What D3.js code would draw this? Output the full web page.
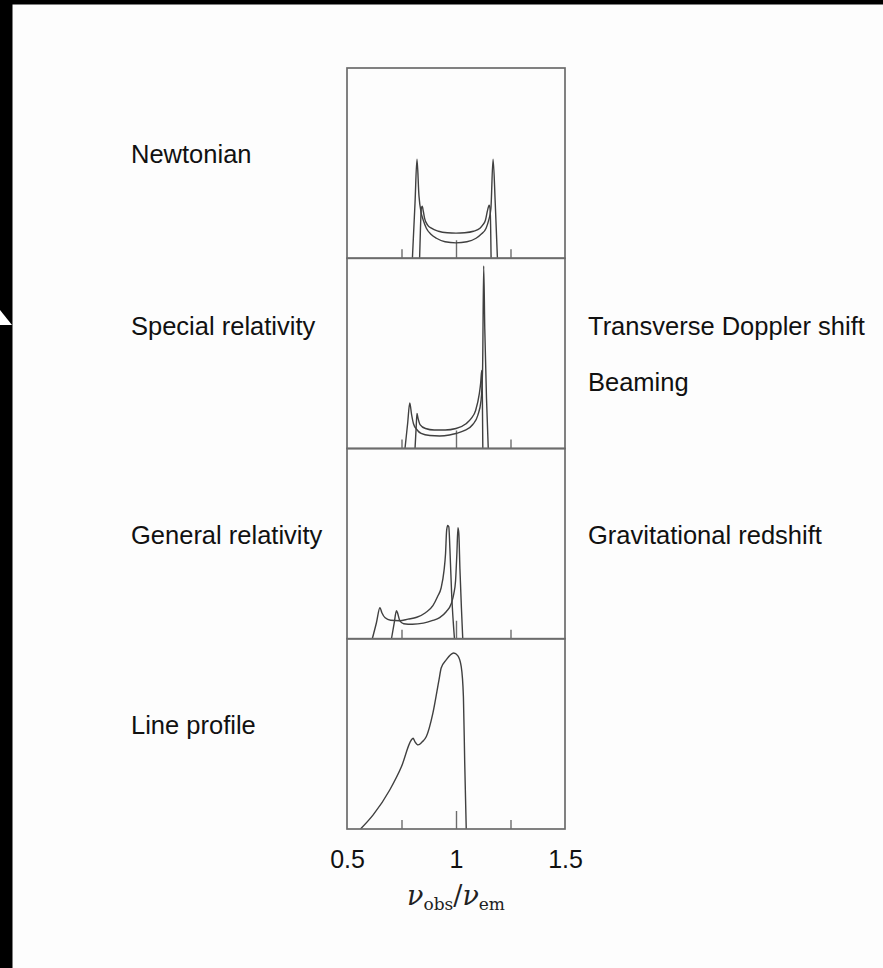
<!DOCTYPE html>
<html>
<head>
<meta charset="utf-8">
<script src="https://cdn.jsdelivr.net/npm/d3@7"></script>
<style>
  html, body { margin: 0; padding: 0; background: #fff; }
  svg { display: block; }
</style>
</head>
<body>
<script>
// Emission line profiles from two narrow annuli of an accretion disc,
// built up step by step: Newtonian, special relativity, general relativity,
// and finally the integrated line profile.

// Tick labels on the frequency axis
const xTickLabels = [0.5, 1, 1.5];
const majorTicks = [1];
const minorTicks = [0.75, 1.25];

// Panel titles (left) and effect names (right)
const panelTitles = ["Newtonian", "Special relativity", "General relativity", "Line profile"];
const panelNotes = [[], ["Transverse Doppler shift", "Beaming"], ["Gravitational redshift"], []];

// Newtonian: inner annulus (wide, sharp horns) and outer annulus (narrow)
const newtInnerNu   = [0.800,0.812,0.821,0.830,0.840,0.850,0.864,0.885,0.910,0.950,1.000,1.050,1.092,1.115,1.138,1.150,1.160,1.170,1.180,1.190];
const newtInnerFlux = [0,0.29,0.52,0.33,0.24,0.20,0.158,0.126,0.105,0.087,0.081,0.087,0.105,0.126,0.158,0.20,0.26,0.52,0.29,0];
const newtOuterNu   = [0.833,0.837,0.841,0.845,0.850,0.856,0.870,0.887,0.920,0.960,1.000,1.040,1.080,1.110,1.122,1.135,1.145,1.152,1.156,1.159,1.161];
const newtOuterFlux = [0,0.158,0.263,0.274,0.247,0.21,0.174,0.158,0.142,0.134,0.132,0.134,0.142,0.158,0.174,0.20,0.253,0.279,0.263,0.158,0];

// Special relativity
const srInnerNu   = [0.766,0.778,0.788,0.796,0.805,0.820,0.840,0.880,0.925,0.970,1.000,1.040,1.077,1.100,1.115,1.122,1.127,1.132,1.140,1.148];
const srInnerFlux = [0,0.13,0.24,0.18,0.13,0.10,0.079,0.068,0.066,0.071,0.079,0.095,0.126,0.174,0.253,0.42,0.96,0.63,0.26,0];
const srOuterNu   = [0.812,0.817,0.821,0.826,0.835,0.860,0.900,0.950,1.000,1.046,1.070,1.090,1.107,1.113,1.118,1.121,1.123];
const srOuterFlux = [0,0.105,0.184,0.158,0.126,0.105,0.097,0.097,0.105,0.13,0.158,0.20,0.288,0.342,0.41,0.263,0];

// General relativity
const grInnerNu   = [0.616,0.635,0.651,0.660,0.675,0.700,0.740,0.780,0.820,0.860,0.894,0.915,0.932,0.945,0.952,0.957,0.962,0.967,0.972,0.980,0.993];
const grInnerFlux = [0,0.084,0.163,0.137,0.11,0.097,0.095,0.103,0.113,0.137,0.174,0.221,0.268,0.358,0.447,0.568,0.595,0.589,0.474,0.237,0];
const grOuterNu   = [0.704,0.716,0.727,0.733,0.742,0.760,0.800,0.850,0.890,0.925,0.955,0.978,0.990,0.998,1.004,1.009,1.013,1.018,1.025,1.031];
const grOuterFlux = [0,0.079,0.147,0.132,0.095,0.079,0.076,0.082,0.095,0.111,0.142,0.184,0.237,0.305,0.447,0.584,0.553,0.368,0.158,0];

// Integrated line profile
const lineNu   = [0.562,0.620,0.696,0.750,0.795,0.803,0.812,0.826,0.845,0.864,0.894,0.922,0.932,0.955,0.989,1.008,1.024,1.034,1.040,1.047];
const lineFlux = [0,0.074,0.205,0.328,0.468,0.477,0.458,0.442,0.458,0.486,0.609,0.784,0.846,0.889,0.925,0.911,0.853,0.695,0.347,0];

const panelSeries = [
  [[newtInnerNu, newtInnerFlux], [newtOuterNu, newtOuterFlux]],
  [[srInnerNu, srInnerFlux], [srOuterNu, srOuterFlux]],
  [[grInnerNu, grInnerFlux], [grOuterNu, grOuterFlux]],
  [[lineNu, lineFlux]]
];

const W = 883, H = 968;
const frameLeft = 347, frameRight = 565, frameTop = 68, frameBottom = 829;
const nPanels = panelTitles.length;
const panelH = (frameBottom - frameTop) / nPanels;

const svg = d3.select("body").append("svg")
  .attr("width", W).attr("height", H)
  .attr("viewBox", `0 0 ${W} ${H}`);

svg.append("rect").attr("width", W).attr("height", H).attr("fill", "#fdfdfd");

// dark border strips along the top and left edges
svg.append("rect").attr("x", 0).attr("y", 0).attr("width", W).attr("height", 4.5).attr("fill", "#000");
svg.append("rect").attr("x", 0).attr("y", 0).attr("width", 12.5).attr("height", H).attr("fill", "#000");
svg.append("path").attr("d", "M0,310 L12,325 L0,325 Z").attr("fill", "#fff");

const x = d3.scaleLinear().domain([0.5, 1.5]).range([frameLeft, frameRight]);

const fontSans = "'Liberation Sans', Arial, Helvetica, sans-serif";
const lineColor = "#404040";
const frameColor = "#6c6c6c";

panelSeries.forEach((series, i) => {
  const top = frameTop + i * panelH;
  const bottom = top + panelH;
  const y = d3.scaleLinear().domain([0, 1]).range([bottom, top]);
  const g = svg.append("g").attr("class", "panel");

  // inward ticks on each panel's lower edge
  const major = d3.axisBottom(x).tickValues(majorTicks).tickSize(-18).tickFormat("");
  const minor = d3.axisBottom(x).tickValues(minorTicks).tickSize(-9).tickFormat("");
  [major, minor].forEach(ax => {
    const a = g.append("g").attr("transform", `translate(0,${bottom})`).call(ax);
    a.select(".domain").remove();
    a.selectAll(".tick line").attr("stroke", frameColor).attr("stroke-width", 1.4);
  });

  const line = d3.line()
    .x(d => x(d[0]))
    .y(d => y(d[1]))
    .curve(d3.curveMonotoneX);

  series.forEach(([nu, flux]) => {
    g.append("path")
      .datum(nu.map((v, k) => [v, flux[k]]))
      .attr("d", line)
      .attr("fill", "none")
      .attr("stroke", lineColor)
      .attr("stroke-width", 1.4)
      .attr("stroke-linejoin", "round");
  });

  // panel separator / frame
  g.append("rect")
    .attr("x", frameLeft).attr("y", top)
    .attr("width", frameRight - frameLeft).attr("height", panelH)
    .attr("fill", "none").attr("stroke", frameColor).attr("stroke-width", 1.7);

  const mid = (top + bottom) / 2;
  const notes = panelNotes[i];
  const noteGap = 56;
  const firstBase = notes.length > 1 ? mid - 18 : mid;

  svg.append("text")
    .attr("x", 131).attr("y", firstBase)
    .attr("font-family", fontSans).attr("font-size", 25.5).attr("fill", "#111")
    .text(panelTitles[i]);

  notes.forEach((t, k) => {
    svg.append("text")
      .attr("x", 588).attr("y", firstBase + k * noteGap)
      .attr("font-family", fontSans).attr("font-size", 25.5).attr("fill", "#111")
      .text(t);
  });
});

// frequency axis labels
const xAxis = d3.axisBottom(x).tickValues(xTickLabels).tickSize(0).tickPadding(0)
  .tickFormat(d3.format("~g"));
const xa = svg.append("g").attr("transform", `translate(0,${frameBottom})`).call(xAxis);
xa.select(".domain").remove();
xa.selectAll(".tick text")
  .attr("dy", null).attr("y", 39)
  .attr("font-family", fontSans).attr("font-size", 25).attr("fill", "#111");

// axis title: nu_obs / nu_em
const serif = "'DejaVu Serif', 'Liberation Serif', serif";
const title = svg.append("text")
  .attr("x", x(1)).attr("y", 905)
  .attr("text-anchor", "middle")
  .attr("font-family", serif).attr("font-size", 27).attr("fill", "#222");
title.append("tspan").attr("font-style", "italic").text("ν");
title.append("tspan").attr("font-size", 17).attr("dy", 5).text("obs");
title.append("tspan").attr("dy", -5).text("/");
title.append("tspan").attr("font-style", "italic").text("ν");
title.append("tspan").attr("font-size", 17).attr("dy", 5).text("em");
</script>
</body>
</html>
